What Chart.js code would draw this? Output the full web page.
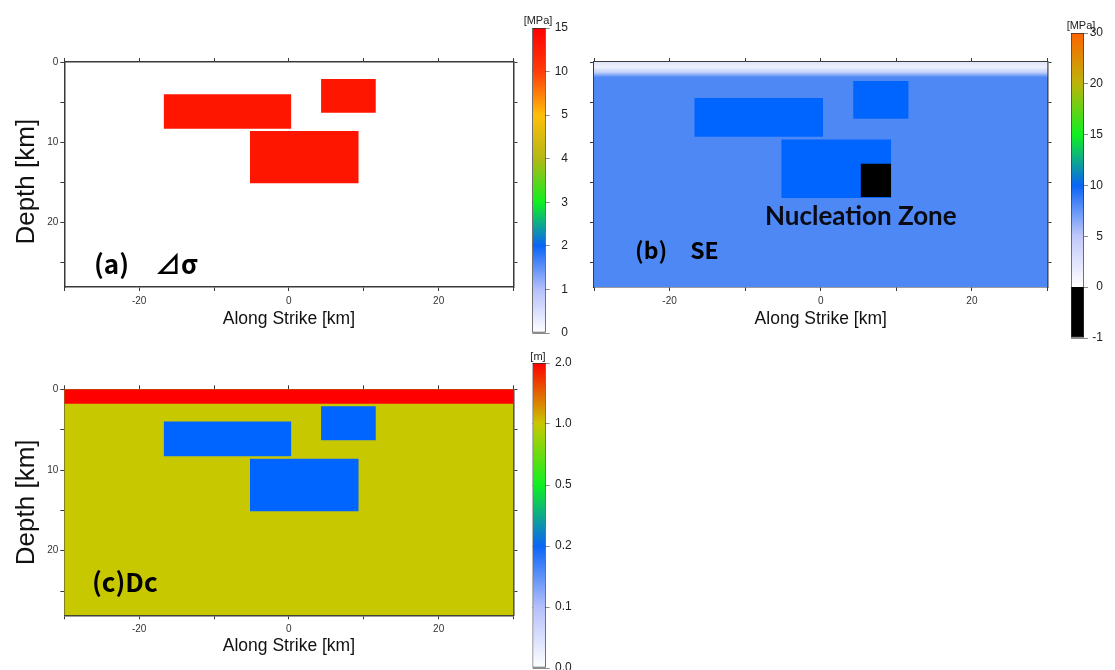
<!DOCTYPE html>
<html>
<head>
<meta charset="utf-8">
<script src="https://cdn.jsdelivr.net/npm/chart.js@4.4.1/dist/chart.umd.min.js"></script>
<style>
  html, body { margin: 0; padding: 0; overflow: hidden; background: #fff; }
  body { position: relative; width: 1115px; height: 670px; }
  canvas { position: absolute; }
  .tag { position: absolute; white-space: pre; line-height: 1; color: #000; }
  .cjk { font: bold 23px "Noto Sans CJK JP", sans-serif; }
  .big { font-size: 26px; }
  .unit { font: 11px "Liberation Sans", Arial, sans-serif; color: #222; transform: translateX(-50%); }
  .zone { font: bold 26px Lato, "Open Sans", sans-serif; color: #0a0a14; }
</style>
</head>
<body>
<canvas id="chart-panel-a" width="525" height="340" style="left:0;top:0"></canvas>
<canvas id="chart-panel-b" width="480" height="340" style="left:580px;top:0"></canvas>
<canvas id="chart-panel-c" width="525" height="330" style="left:0;top:340px"></canvas>
<canvas id="chart-bar-a" width="60" height="333" style="left:520px;top:13.5px"></canvas>
<canvas id="chart-bar-b" width="55" height="333" style="left:1060px;top:19px"></canvas>
<canvas id="chart-bar-c" width="60" height="333" style="left:520px;top:349px"></canvas>

<div class="tag unit" style="left:538px;top:14px">[MPa]</div>
<div class="tag unit" style="left:1081px;top:19px">[MPa]</div>
<div class="tag unit" style="left:538px;top:350px">[m]</div>

<div class="tag cjk big" style="left:94px;top:244px">(a)　⊿σ</div>
<div class="tag cjk" style="left:635px;top:232px">(b)　SE</div>
<div class="tag zone" style="left:765px;top:199px">Nucleation Zone</div>
<div class="tag cjk big" style="left:92px;top:562px">(c)Dc</div>

<script>
// fault model [km]
const strikeRange = [-30, 30];
const depthRange = [0, 28];
const seDepthRange = [0, 25];   // the SE map is stretched to fill its frame
const strikeTicks = [-20, 0, 20];
const depthTicks = [0, 10, 20];

const asperityStrike = [[-16.7, 0.3], [4.3, 11.6], [-5.2, 9.3]];
const asperityDepth = [[4.0, 8.3], [2.1, 6.3], [8.6, 15.1]];
const nucleationStrike = [5.3, 9.3];
const nucleationDepth = [11.3, 15.0];
const seShallowDepth = [0, 1.7];
const dcShallowDepth = [0, 1.8];

// colour bar labels
const stressTicks = ['0', '1', '2', '3', '4', '5', '10', '15'];
const seTicks = ['-1', '0', '5', '10', '15', '20', '30'];
const dcTicks = ['0.0', '0.1', '0.2', '0.5', '1.0', '2.0'];

// colours
const stressStops = [[0, '#ffffff'], [1, '#b4c0fc'], [2, '#0a64f5'], [3, '#10f020'], [4, '#b4b814'], [5, '#ffbe0a'], [6, '#ff3c0a'], [7, '#ff0000']];
const seStops = [[0, '#000000'], [1, '#000000'], [1, '#ffffff'], [2, '#c0c8fa'], [3, '#0a64f5'], [4, '#10f020'], [5, '#bcb40a'], [6, '#ff6400']];
const dcStops = [[0, '#ffffff'], [1, '#b4c0fc'], [2, '#0a64f5'], [3, '#10f020'], [4, '#c8c800'], [5, '#ff0000']];
const seBand = ['#dfe4fa', '#eef1fd', '#c4d2f9', '#4d88f5'];

const namechart = 'chart-';
const family = '"Liberation Sans", Arial, sans-serif';
const frameColor = '#3a3a3a';

const rect = (strike, depth) => [
  {x: strike[0], y: depth[0]}, {x: strike[1], y: depth[0]},
  {x: strike[1], y: depth[1]}, {x: strike[0], y: depth[1]},
  {x: strike[0], y: depth[0]},
];

const patch = (strike, depth, color, yAxisID = 'y') => ({
  data: rect(strike, depth),
  xAxisID: 'x',
  yAxisID,
  backgroundColor: color,
  borderColor: 'transparent',
  borderWidth: 0,
  fill: 'shape',
  pointRadius: 0,
  tension: 0,
});

const asperities = (color, yAxisID) =>
  asperityStrike.map((s, i) => patch(s, asperityDepth[i], color, yAxisID));

const panel = (name, layers, p) => {
  const side = {
    border: {display: true, color: frameColor, width: 1.5},
    grid: {drawOnChartArea: false, tickLength: 4, color: frameColor},
  };
  const strikeAxis = {...side, type: 'linear', min: strikeRange[0], max: strikeRange[1]};
  const depthAxis = {...side, type: 'linear', reverse: true, min: depthRange[0], max: depthRange[1]};
  const scales = {
    x: {...strikeAxis, position: 'bottom',
      afterFit: (s) => { s.height = p.xHeight; },
      ticks: {stepSize: 10, autoSkip: false, maxRotation: 0, padding: 4, color: '#333', font: {family, size: 10},
        callback: (v) => (strikeTicks.includes(v) ? String(v) : '')},
      title: {display: true, text: 'Along Strike [km]', color: '#111', font: {family, size: 17.5, lineHeight: 1},
        padding: {top: 0, bottom: p.xTitlePad}}},
    x2: {...strikeAxis, position: 'top',
      afterFit: (s) => { s.height = 6; },
      ticks: {stepSize: 10, autoSkip: false, callback: () => ''}},
    y: {...depthAxis, position: 'left',
      afterFit: (s) => { s.width = p.yWidth; },
      ticks: {stepSize: 5, autoSkip: false, includeBounds: false, padding: 2, color: '#333', font: {family, size: 10},
        callback: (v) => (p.yTitle && depthTicks.includes(v) ? String(v) : '')},
      title: {display: !!p.yTitle, text: p.yTitle || '', color: '#111', font: {family, size: 26, lineHeight: 1},
        padding: {top: 14, bottom: 0}}},
    y2: {...depthAxis, position: 'right',
      afterFit: (s) => { s.width = 6; },
      ticks: {stepSize: 5, autoSkip: false, includeBounds: false, callback: () => ''}},
  };
  if (p.imageDepth) {
    scales.yImg = {type: 'linear', display: false, reverse: true, min: p.imageDepth[0], max: p.imageDepth[1]};
  }

  new Chart(document.getElementById(namechart + name), {
    type: 'line',
    data: {datasets: layers.map((d, i) => ({...d, order: layers.length - i}))},
    options: {
      responsive: false, animation: false, devicePixelRatio: 1, events: [],
      layout: {autoPadding: false, padding: p.padding},
      plugins: {legend: {display: false}, tooltip: {enabled: false}},
      scales,
    },
  });
};

const colorbar = (name, labels, stops, p) => {
  const top = labels.length - 1;
  new Chart(document.getElementById(namechart + name), {
    type: 'bar',
    data: {
      labels: [''],
      datasets: [{
        data: [[0, top]],
        backgroundColor: (ctx) => {
          const area = ctx.chart.chartArea;
          if (!area) return stops[0][1];
          const g = ctx.chart.ctx.createLinearGradient(0, area.bottom, 0, area.top);
          stops.forEach(([pos, c]) => g.addColorStop(pos / top, c));
          return g;
        },
        borderColor: '#333', borderWidth: 1, borderSkipped: false,
        barPercentage: 1, categoryPercentage: 1,
      }],
    },
    options: {
      responsive: false, animation: false, devicePixelRatio: 1, events: [],
      layout: {autoPadding: false, padding: p.padding},
      plugins: {legend: {display: false}, tooltip: {enabled: false}},
      scales: {
        x: {display: false},
        y: {position: 'right', min: 0, max: top, z: 1,
          afterFit: (s) => { s.width = p.axisWidth; },
          border: {display: false},
          grid: {color: 'rgba(45,45,45,0.55)', tickLength: 4},
          ticks: {stepSize: 1, autoSkip: false, padding: 3, crossAlign: 'far', color: '#222',
            font: {family, size: 12}, callback: (v) => labels[v]}},
      },
    },
  });
};

// (a) stress drop
panel('panel-a', asperities('#ff1600'), {
  padding: {left: 0, right: 5.5, top: 56, bottom: 0},
  yWidth: 64.3, xHeight: 53, xTitlePad: 12.2, yTitle: 'Depth [km]  ',
});

// (b) strength excess
const seBandLayer = patch(strikeRange, seShallowDepth, (ctx) => {
  const {chart} = ctx;
  const ys = chart.scales.yImg;
  if (!ys || !chart.chartArea) return seBand[seBand.length - 1];
  const g = chart.ctx.createLinearGradient(0, ys.getPixelForValue(seShallowDepth[0]), 0, ys.getPixelForValue(seShallowDepth[1]));
  seBand.forEach((c, i) => g.addColorStop(i / (seBand.length - 1), c));
  return g;
}, 'yImg');

panel('panel-b', [
  patch(strikeRange, seDepthRange, '#4d88f5', 'yImg'),
  seBandLayer,
  ...asperities('#0064ff', 'yImg'),
  patch(nucleationStrike, nucleationDepth, '#000000', 'yImg'),
], {
  padding: {left: 8, right: 6.5, top: 56, bottom: 0},
  yWidth: 6, xHeight: 53, xTitlePad: 12.2, imageDepth: seDepthRange,
});

// (c) Dc
panel('panel-c', [
  patch(strikeRange, depthRange, '#c8c800'),
  patch(strikeRange, dcShallowDepth, '#ff0000'),
  ...asperities('#0064ff'),
], {
  padding: {left: 0, right: 5.5, top: 43.3, bottom: 0},
  yWidth: 64.3, xHeight: 54.7, xTitlePad: 14.8, yTitle: 'Depth [km]',
});

colorbar('bar-a', stressTicks, stressStops, {padding: {left: 12.3, right: 12, top: 14, bottom: 14}, axisWidth: 22.3});
colorbar('bar-b', seTicks, seStops, {padding: {left: 11, right: 12, top: 14, bottom: 14}, axisWidth: 19});
colorbar('bar-c', dcTicks, dcStops, {padding: {left: 12.5, right: 8.3, top: 14, bottom: 14}, axisWidth: 26});
</script>
</body>
</html>
